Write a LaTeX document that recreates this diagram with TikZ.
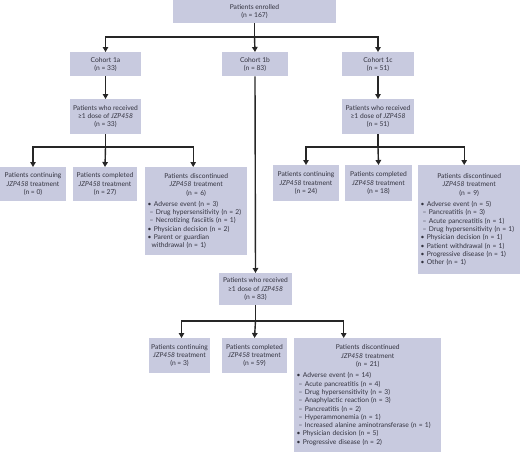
\documentclass[tikz,border=0pt]{standalone}
\usepackage{fontspec}
\setmainfont{Lato}
\usetikzlibrary{arrows.meta}
\definecolor{boxfill}{RGB}{200,202,223}
\definecolor{boxtext}{RGB}{50,50,62}

\tikzset{
  box/.style={fill=boxfill, text=boxtext, font=\fontsize{6.7}{8.3}\selectfont, align=center, inner sep=2pt, anchor=north},
  listbox/.style={box, align=left, inner xsep=2.5pt, inner ysep=4pt, anchor=north west},
  arr/.style={-{Triangle[length=5pt,width=5.5pt]}, line width=1.4pt, black!85},
}

\begin{document}
\begin{tikzpicture}[x=1pt, y=-1pt]
    \useasboundingbox (0,0) rectangle (520,453);

    % Enrollment and cohorts
    \node[box, minimum width=163pt, minimum height=23pt] (enrolled) at (254.5,0) {Patients enrolled\\(n = 167)};
    \node[box, minimum width=71pt, minimum height=24pt] (coh1a) at (105.5,52) {Cohort 1a\\(n = 33)};
    \node[box, minimum width=66pt, minimum height=24pt] (coh1b) at (255,52) {Cohort 1b\\(n = 83)};
    \node[box, minimum width=72pt, minimum height=24pt] (coh1c) at (378,52) {Cohort 1c\\(n = 51)};

    % Patients dosed
    \node[box, minimum width=71pt, minimum height=35pt] (dosed1a) at (105.5,99) {Patients who received\\≥1 dose of \textit{JZP458}\\(n = 33)};
    \node[box, minimum width=72pt, minimum height=35pt] (dosed1c) at (378,99) {Patients who received\\≥1 dose of \textit{JZP458}\\(n = 51)};
    \node[box, minimum width=73pt, minimum height=32pt] (dosed1b) at (255.5,273) {Patients who received\\≥1 dose of \textit{JZP458}\\(n = 83)};

    % Cohort 1a outcomes
    \node[box, minimum width=66pt, minimum height=34pt] (cont1a) at (33,167) {Patients continuing\\\textit{JZP458} treatment\\(n = 0)};
    \node[box, minimum width=64pt, minimum height=34pt] (comp1a) at (105,167) {Patients completed\\\textit{JZP458} treatment\\(n = 27)};
    \node[listbox, text width=97pt, minimum height=88pt] (disc1a) at (145,167) {{\centering Patients discontinued\\\textit{JZP458} treatment\\(n = 6)\par}\vspace{3pt}
        \textbullet\ Adverse event (n = 3)\\
        \hspace*{2pt}– Drug hypersensitivity (n = 2)\\
        \hspace*{2pt}– Necrotizing fasciitis (n = 1)\\
        \textbullet\ Physician decision (n = 2)\\
        \textbullet\ Parent or guardian\\
        \hspace*{4pt}withdrawal (n = 1)};

    % Cohort 1c outcomes
    \node[box, minimum width=66pt, minimum height=36pt] (cont1c) at (306,165) {Patients continuing\\\textit{JZP458} treatment\\(n = 24)};
    \node[box, minimum width=67pt, minimum height=36pt] (comp1c) at (378.5,165) {Patients completed\\\textit{JZP458} treatment\\(n = 18)};
    \node[listbox, text width=97pt, minimum height=109pt] (disc1c) at (418,165) {{\centering Patients discontinued\\\textit{JZP458} treatment\\(n = 9)\par}\vspace{3pt}
        \textbullet\ Adverse event (n = 5)\\
        \hspace*{2pt}– Pancreatitis (n = 3)\\
        \hspace*{2pt}– Acute pancreatitis (n = 1)\\
        \hspace*{2pt}– Drug hypersensitivity (n = 1)\\
        \textbullet\ Physician decision (n = 1)\\
        \textbullet\ Patient withdrawal (n = 1)\\
        \textbullet\ Progressive disease (n = 1)\\
        \textbullet\ Other (n = 1)};

    % Cohort 1b outcomes
    \node[box, minimum width=61pt, minimum height=35pt] (cont1b) at (179.5,338) {Patients continuing\\\textit{JZP458} treatment\\(n = 3)};
    \node[box, minimum width=65pt, minimum height=35pt] (comp1b) at (254.5,338) {Patients completed\\\textit{JZP458} treatment\\(n = 59)};
    \node[listbox, text width=142pt, minimum height=114pt] (disc1b) at (294,338) {{\centering Patients discontinued\\\textit{JZP458} treatment\\(n = 21)\par}\vspace{3pt}
        \textbullet\ Adverse event (n = 14)\\
        \hspace*{2pt}– Acute pancreatitis (n = 4)\\
        \hspace*{2pt}– Drug hypersensitivity (n = 3)\\
        \hspace*{2pt}– Anaphylactic reaction (n = 3)\\
        \hspace*{2pt}– Pancreatitis (n = 2)\\
        \hspace*{2pt}– Hyperammonemia (n = 1)\\
        \hspace*{2pt}– Increased alanine aminotransferase (n = 1)\\
        \textbullet\ Physician decision (n = 5)\\
        \textbullet\ Progressive disease (n = 2)};

    % Split points
    \coordinate (split0) at (254.5,37);
    \coordinate (split1a) at (105.5,147);
    \coordinate (split1c) at (378,147);
    \coordinate (split1b) at (255.5,321);

    % Connectors
    \draw[arr] (enrolled.south) -- (split0) -| (coh1a.north);
    \draw[arr] (split0) -| (coh1c.north);
    \draw[arr] (split0) -- (coh1b.north);

    \draw[arr] (coh1a.south) -- (dosed1a.north);
    \draw[arr] (coh1c.south) -- (dosed1c.north);
    \draw[arr] (coh1b.south) -- (dosed1b.north);

    \draw[arr] (dosed1a.south) -- (split1a) -| (cont1a.north);
    \draw[arr] (split1a) -- (comp1a.north);
    \draw[arr] (split1a) -| ([xshift=-3pt]disc1a.north);

    \draw[arr] (dosed1c.south) -- (split1c) -| (cont1c.north);
    \draw[arr] (split1c) -- (comp1c.north);
    \draw[arr] (split1c) -| ([xshift=-5pt]disc1c.north);

    \draw[arr] (dosed1b.south) -- (split1b) -| ([xshift=2pt]cont1b.north);
    \draw[arr] (split1b) -- (comp1b.north);
    \draw[arr] (split1b) -| ([xshift=-24pt]disc1b.north);

\end{tikzpicture}
\end{document}
